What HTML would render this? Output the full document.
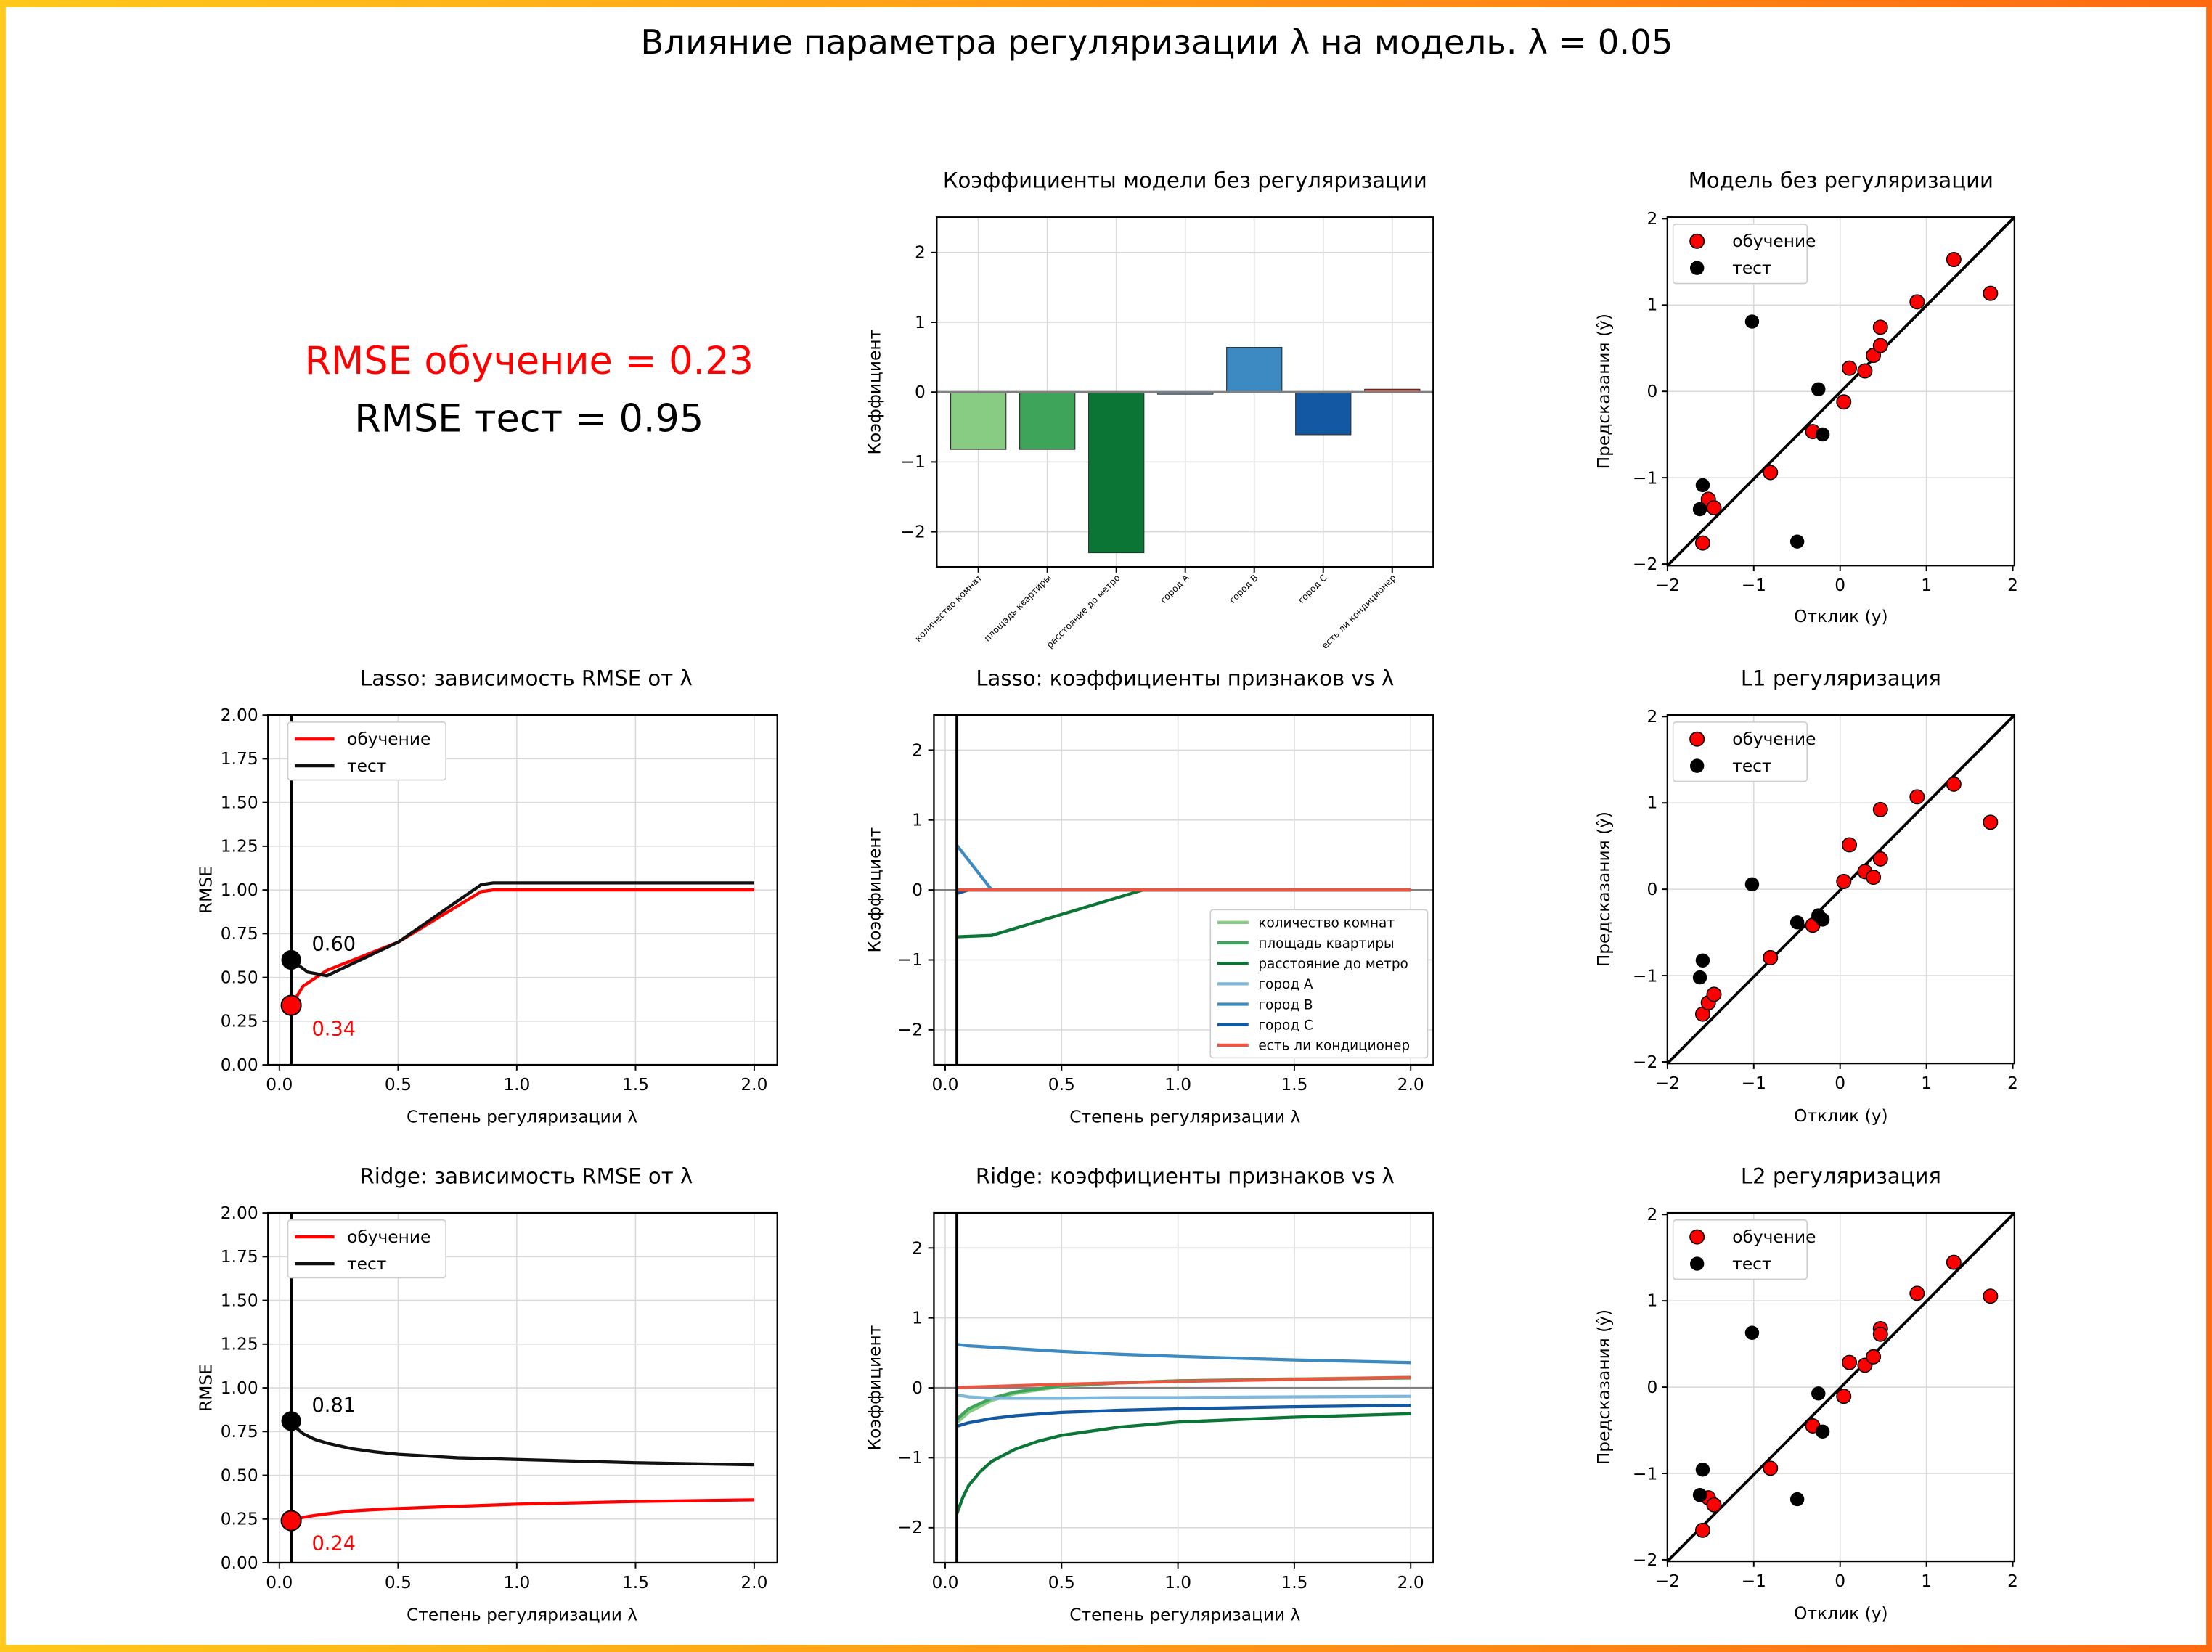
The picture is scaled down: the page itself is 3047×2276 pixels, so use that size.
<!DOCTYPE html>
<html><head><meta charset="utf-8"><style>
html,body{margin:0;padding:0;background:#fff}
svg{display:block}
text{font-family:"DejaVu Sans","Liberation Sans",sans-serif;fill:#000}
.t{font-size:12px}
.ti{font-size:15px}
.g{stroke:#d9d9d9;stroke-width:0.8}
.ax{fill:none;stroke:#000;stroke-width:1.2}
.tk{stroke:#000;stroke-width:1}
</style></head><body>
<svg width="3047" height="2276" viewBox="0 0 1568 1171.3" xmlns="http://www.w3.org/2000/svg">
<defs><linearGradient id="bg" x1="0" x2="1"><stop offset="0" stop-color="#ffc81a"/><stop offset="1" stop-color="#ff6a10"/></linearGradient></defs>
<rect x="0" y="0" width="1568" height="1171.3" fill="#fff"/>
<rect x="0" y="0" width="1568" height="5" fill="url(#bg)"/>
<rect x="0" y="1166.3" width="1568" height="5" fill="url(#bg)"/>
<rect x="0" y="0" width="4" height="1171.3" fill="#ffc81a"/>
<rect x="1564" y="0" width="4" height="1171.3" fill="#ff6a10"/>

<text x="820" y="38" font-size="24" text-anchor="middle">Влияние параметра регуляризации λ на модель. λ = 0.05</text>
<text x="375" y="265" font-size="27" text-anchor="middle" style="fill:#ff0000">RMSE обучение = 0.23</text>
<text x="375" y="306" font-size="27" text-anchor="middle">RMSE тест = 0.95</text>

<!-- ============ BAR CHART ============ -->
<g>
<text class="ti" x="840" y="133" text-anchor="middle">Коэффициенты модели без регуляризации</text>
<g class="g">
<line x1="664" x2="1016" y1="179" y2="179"/><line x1="664" x2="1016" y1="228.5" y2="228.5"/><line x1="664" x2="1016" y1="327.5" y2="327.5"/><line x1="664" x2="1016" y1="377" y2="377"/>
<line x1="693.5" x2="693.5" y1="154" y2="402"/><line x1="742.4" x2="742.4" y1="154" y2="402"/><line x1="791.3" x2="791.3" y1="154" y2="402"/><line x1="840.2" x2="840.2" y1="154" y2="402"/><line x1="889.1" x2="889.1" y1="154" y2="402"/><line x1="938" x2="938" y1="154" y2="402"/><line x1="986.9" x2="986.9" y1="154" y2="402"/>
</g>
<g stroke="#333" stroke-width="0.6">
<rect x="673.9" y="278" width="39.2" height="40.6" fill="#88cc84"/>
<rect x="722.8" y="278" width="39.2" height="40.6" fill="#3da45a"/>
<rect x="771.7" y="278" width="39.2" height="113.9" fill="#0a7535"/>
<rect x="820.6" y="278" width="39.2" height="1.5" fill="#7eb7dc"/>
<rect x="869.5" y="246.3" width="39.2" height="31.7" fill="#3d8ac2"/>
<rect x="918.4" y="278" width="39.2" height="30.2" fill="#1258a3"/>
<rect x="967.3" y="276" width="39.2" height="2" fill="#e85743"/>
</g>
<line x1="664" x2="1016" y1="278" y2="278" stroke="#808080" stroke-width="1.6"/>
<rect class="ax" x="664" y="154" width="352" height="248"/>
<g class="tk"><line x1="660" x2="664" y1="179" y2="179"/><line x1="660" x2="664" y1="228.5" y2="228.5"/><line x1="660" x2="664" y1="278" y2="278"/><line x1="660" x2="664" y1="327.5" y2="327.5"/><line x1="660" x2="664" y1="377" y2="377"/>
<line x1="693.5" x2="693.5" y1="402" y2="406"/><line x1="742.4" x2="742.4" y1="402" y2="406"/><line x1="791.3" x2="791.3" y1="402" y2="406"/><line x1="840.2" x2="840.2" y1="402" y2="406"/><line x1="889.1" x2="889.1" y1="402" y2="406"/><line x1="938" x2="938" y1="402" y2="406"/><line x1="986.9" x2="986.9" y1="402" y2="406"/></g>
<g class="t" text-anchor="end"><text x="656" y="183">2</text><text x="656" y="232.5">1</text><text x="656" y="282">0</text><text x="656" y="331.5">−1</text><text x="656" y="381">−2</text></g>
<g font-size="6.3" text-anchor="end">
<text transform="translate(696.5,410) rotate(-45)">количество комнат</text>
<text transform="translate(745.4,410) rotate(-45)">площадь квартиры</text>
<text transform="translate(794.3,410) rotate(-45)">расстояние до метро</text>
<text transform="translate(843.2,410) rotate(-45)">город A</text>
<text transform="translate(892.1,410) rotate(-45)">город B</text>
<text transform="translate(941,410) rotate(-45)">город C</text>
<text transform="translate(989.9,410) rotate(-45)">есть ли кондиционер</text>
</g>
<text class="t" transform="translate(624,278) rotate(-90)" text-anchor="middle">Коэффициент</text>
</g>

<!-- Row1 scatter -->
<g>
<text class="ti" x="1305" y="133" text-anchor="middle">Модель без регуляризации</text>
<g class="g"><line x1="1243.2" x2="1243.2" y1="154" y2="401"/><line x1="1304.4" x2="1304.4" y1="154" y2="401"/><line x1="1365.6" x2="1365.6" y1="154" y2="401"/>
<line x1="1182" x2="1428" y1="216.3" y2="216.3"/><line x1="1182" x2="1428" y1="277.5" y2="277.5"/><line x1="1182" x2="1428" y1="338.7" y2="338.7"/></g>
<line x1="1182" y1="401" x2="1428" y2="154" stroke="#000" stroke-width="2"/>
<g stroke="#000" stroke-width="0.8" fill="#ff0000">
<circle cx="1207" cy="385" r="5"/><circle cx="1211" cy="354" r="5"/><circle cx="1215" cy="360" r="5"/><circle cx="1255" cy="335" r="5"/><circle cx="1285" cy="306" r="5"/><circle cx="1307" cy="285" r="5"/><circle cx="1311" cy="261" r="5"/><circle cx="1322" cy="263" r="5"/><circle cx="1328" cy="252" r="5"/><circle cx="1333" cy="232" r="5"/><circle cx="1333" cy="245" r="5"/><circle cx="1359" cy="214" r="5"/><circle cx="1385" cy="184" r="5"/><circle cx="1411" cy="208" r="5"/></g>
<g fill="#000"><circle cx="1205" cy="361" r="5"/><circle cx="1207" cy="344" r="5"/><circle cx="1242" cy="228" r="5"/><circle cx="1274" cy="384" r="5"/><circle cx="1289" cy="276" r="5"/><circle cx="1292" cy="308" r="5"/></g>
<rect class="ax" x="1182" y="154" width="246" height="247"/>
<g class="tk"><line x1="1182" x2="1182" y1="401" y2="405"/><line x1="1243.2" x2="1243.2" y1="401" y2="405"/><line x1="1304.4" x2="1304.4" y1="401" y2="405"/><line x1="1365.6" x2="1365.6" y1="401" y2="405"/><line x1="1426.8" x2="1426.8" y1="401" y2="405"/>
<line x1="1178" x2="1182" y1="155.1" y2="155.1"/><line x1="1178" x2="1182" y1="216.3" y2="216.3"/><line x1="1178" x2="1182" y1="277.5" y2="277.5"/><line x1="1178" x2="1182" y1="338.7" y2="338.7"/><line x1="1178" x2="1182" y1="399.9" y2="399.9"/></g>
<g class="t" text-anchor="middle"><text x="1182" y="419">−2</text><text x="1243.2" y="419">−1</text><text x="1304.4" y="419">0</text><text x="1365.6" y="419">1</text><text x="1426.8" y="419">2</text></g>
<g class="t" text-anchor="end"><text x="1175" y="159">2</text><text x="1175" y="220">1</text><text x="1175" y="281.5">0</text><text x="1175" y="343">−1</text><text x="1175" y="404">−2</text></g>
<text class="t" x="1305" y="441" text-anchor="middle">Отклик (y)</text>
<text class="t" transform="translate(1141,277.5) rotate(-90)" text-anchor="middle">Предсказания (ŷ)</text>
<rect x="1186" y="159" width="95" height="42" fill="#fff" stroke="#ccc" stroke-width="0.8" rx="2"/>
<circle cx="1203" cy="171" r="5" fill="#ff0000" stroke="#000" stroke-width="0.8"/><text class="t" x="1228" y="175">обучение</text>
<circle cx="1203" cy="190" r="5" fill="#000"/><text class="t" x="1228" y="194">тест</text>
</g>

<!-- Row2 scatter -->
<g>
<text class="ti" x="1305" y="486" text-anchor="middle">L1 регуляризация</text>
<g class="g"><line x1="1243.2" x2="1243.2" y1="507" y2="754"/><line x1="1304.4" x2="1304.4" y1="507" y2="754"/><line x1="1365.6" x2="1365.6" y1="507" y2="754"/>
<line x1="1182" x2="1428" y1="569.3" y2="569.3"/><line x1="1182" x2="1428" y1="630.5" y2="630.5"/><line x1="1182" x2="1428" y1="691.7" y2="691.7"/></g>
<line x1="1182" y1="754" x2="1428" y2="507" stroke="#000" stroke-width="2"/>
<g stroke="#000" stroke-width="0.8" fill="#ff0000">
<circle cx="1207" cy="719" r="5"/><circle cx="1211" cy="711" r="5"/><circle cx="1215" cy="705" r="5"/><circle cx="1255" cy="679" r="5"/><circle cx="1285" cy="656" r="5"/><circle cx="1307" cy="625" r="5"/><circle cx="1311" cy="599" r="5"/><circle cx="1322" cy="618" r="5"/><circle cx="1328" cy="622" r="5"/><circle cx="1333" cy="574" r="5"/><circle cx="1333" cy="609" r="5"/><circle cx="1359" cy="565" r="5"/><circle cx="1385" cy="556" r="5"/><circle cx="1411" cy="583" r="5"/></g>
<g fill="#000"><circle cx="1205" cy="693" r="5"/><circle cx="1207" cy="681" r="5"/><circle cx="1242" cy="627" r="5"/><circle cx="1274" cy="654" r="5"/><circle cx="1289" cy="649" r="5"/><circle cx="1292" cy="652" r="5"/></g>
<rect class="ax" x="1182" y="507" width="246" height="247"/>
<g class="tk"><line x1="1182" x2="1182" y1="754" y2="758"/><line x1="1243.2" x2="1243.2" y1="754" y2="758"/><line x1="1304.4" x2="1304.4" y1="754" y2="758"/><line x1="1365.6" x2="1365.6" y1="754" y2="758"/><line x1="1426.8" x2="1426.8" y1="754" y2="758"/>
<line x1="1178" x2="1182" y1="508.1" y2="508.1"/><line x1="1178" x2="1182" y1="569.3" y2="569.3"/><line x1="1178" x2="1182" y1="630.5" y2="630.5"/><line x1="1178" x2="1182" y1="691.7" y2="691.7"/><line x1="1178" x2="1182" y1="752.9" y2="752.9"/></g>
<g class="t" text-anchor="middle"><text x="1182" y="772">−2</text><text x="1243.2" y="772">−1</text><text x="1304.4" y="772">0</text><text x="1365.6" y="772">1</text><text x="1426.8" y="772">2</text></g>
<g class="t" text-anchor="end"><text x="1175" y="512">2</text><text x="1175" y="573">1</text><text x="1175" y="634.5">0</text><text x="1175" y="696">−1</text><text x="1175" y="757">−2</text></g>
<text class="t" x="1305" y="795" text-anchor="middle">Отклик (y)</text>
<text class="t" transform="translate(1141,630.5) rotate(-90)" text-anchor="middle">Предсказания (ŷ)</text>
<rect x="1186" y="512" width="95" height="42" fill="#fff" stroke="#ccc" stroke-width="0.8" rx="2"/>
<circle cx="1203" cy="524" r="5" fill="#ff0000" stroke="#000" stroke-width="0.8"/><text class="t" x="1228" y="528">обучение</text>
<circle cx="1203" cy="543" r="5" fill="#000"/><text class="t" x="1228" y="547">тест</text>
</g>

<!-- Row3 scatter -->
<g>
<text class="ti" x="1305" y="839" text-anchor="middle">L2 регуляризация</text>
<g class="g"><line x1="1243.2" x2="1243.2" y1="860" y2="1107"/><line x1="1304.4" x2="1304.4" y1="860" y2="1107"/><line x1="1365.6" x2="1365.6" y1="860" y2="1107"/>
<line x1="1182" x2="1428" y1="922.3" y2="922.3"/><line x1="1182" x2="1428" y1="983.5" y2="983.5"/><line x1="1182" x2="1428" y1="1044.7" y2="1044.7"/></g>
<line x1="1182" y1="1107" x2="1428" y2="860" stroke="#000" stroke-width="2"/>
<g stroke="#000" stroke-width="0.8" fill="#ff0000">
<circle cx="1207" cy="1085" r="5"/><circle cx="1211" cy="1062" r="5"/><circle cx="1215" cy="1067" r="5"/><circle cx="1255" cy="1041" r="5"/><circle cx="1285" cy="1011" r="5"/><circle cx="1307" cy="990" r="5"/><circle cx="1311" cy="966" r="5"/><circle cx="1322" cy="968" r="5"/><circle cx="1328" cy="962" r="5"/><circle cx="1333" cy="942" r="5"/><circle cx="1333" cy="946" r="5"/><circle cx="1359" cy="917" r="5"/><circle cx="1385" cy="895" r="5"/><circle cx="1411" cy="919" r="5"/></g>
<g fill="#000"><circle cx="1205" cy="1060" r="5"/><circle cx="1207" cy="1042" r="5"/><circle cx="1242" cy="945" r="5"/><circle cx="1274" cy="1063" r="5"/><circle cx="1289" cy="988" r="5"/><circle cx="1292" cy="1015" r="5"/></g>
<rect class="ax" x="1182" y="860" width="246" height="247"/>
<g class="tk"><line x1="1182" x2="1182" y1="1107" y2="1111"/><line x1="1243.2" x2="1243.2" y1="1107" y2="1111"/><line x1="1304.4" x2="1304.4" y1="1107" y2="1111"/><line x1="1365.6" x2="1365.6" y1="1107" y2="1111"/><line x1="1426.8" x2="1426.8" y1="1107" y2="1111"/>
<line x1="1178" x2="1182" y1="861.1" y2="861.1"/><line x1="1178" x2="1182" y1="922.3" y2="922.3"/><line x1="1178" x2="1182" y1="983.5" y2="983.5"/><line x1="1178" x2="1182" y1="1044.7" y2="1044.7"/><line x1="1178" x2="1182" y1="1105.9" y2="1105.9"/></g>
<g class="t" text-anchor="middle"><text x="1182" y="1125">−2</text><text x="1243.2" y="1125">−1</text><text x="1304.4" y="1125">0</text><text x="1365.6" y="1125">1</text><text x="1426.8" y="1125">2</text></g>
<g class="t" text-anchor="end"><text x="1175" y="865">2</text><text x="1175" y="926">1</text><text x="1175" y="987.5">0</text><text x="1175" y="1049">−1</text><text x="1175" y="1110">−2</text></g>
<text class="t" x="1305" y="1148" text-anchor="middle">Отклик (y)</text>
<text class="t" transform="translate(1141,983.5) rotate(-90)" text-anchor="middle">Предсказания (ŷ)</text>
<rect x="1186" y="865" width="95" height="42" fill="#fff" stroke="#ccc" stroke-width="0.8" rx="2"/>
<circle cx="1203" cy="877" r="5" fill="#ff0000" stroke="#000" stroke-width="0.8"/><text class="t" x="1228" y="881">обучение</text>
<circle cx="1203" cy="896" r="5" fill="#000"/><text class="t" x="1228" y="900">тест</text>
</g>

<!-- ============ LASSO RMSE ============ -->
<g>
<text class="ti" x="373" y="486" text-anchor="middle">Lasso: зависимость RMSE от λ</text>
<g class="g">
<line x1="198" x2="198" y1="507" y2="755"/><line x1="282.2" x2="282.2" y1="507" y2="755"/><line x1="366.3" x2="366.3" y1="507" y2="755"/><line x1="450.5" x2="450.5" y1="507" y2="755"/><line x1="534.6" x2="534.6" y1="507" y2="755"/>
<line x1="190" x2="551" y1="724" y2="724"/><line x1="190" x2="551" y1="693" y2="693"/><line x1="190" x2="551" y1="662" y2="662"/><line x1="190" x2="551" y1="631" y2="631"/><line x1="190" x2="551" y1="600" y2="600"/><line x1="190" x2="551" y1="569" y2="569"/><line x1="190" x2="551" y1="538" y2="538"/>
</g>
<polyline fill="none" stroke="#ff0000" stroke-width="2.2" points="206.4,712.8 214.8,699.2 231.7,688 282.2,668 341,632.2 349.5,631 534.6,631"/>
<polyline fill="none" stroke="#111" stroke-width="2.2" points="206.4,680.6 218.2,689.3 231.7,691.8 282.2,668 341,627.3 349.5,626 534.6,626"/>
<line x1="206.4" x2="206.4" y1="507" y2="755" stroke="#000" stroke-width="2"/>
<circle cx="206.4" cy="680.6" r="7" fill="#000"/>
<circle cx="206.4" cy="712.8" r="7" fill="#ff0000" stroke="#000" stroke-width="1"/>
<text x="221" y="674" font-size="14">0.60</text>
<text x="221" y="734" font-size="14" style="fill:#ff0000">0.34</text>
<rect class="ax" x="190" y="507" width="361" height="248"/>
<g class="tk"><line x1="198" x2="198" y1="755" y2="759"/><line x1="282.2" x2="282.2" y1="755" y2="759"/><line x1="366.3" x2="366.3" y1="755" y2="759"/><line x1="450.5" x2="450.5" y1="755" y2="759"/><line x1="534.6" x2="534.6" y1="755" y2="759"/>
<line x1="186" x2="190" y1="755" y2="755"/><line x1="186" x2="190" y1="724" y2="724"/><line x1="186" x2="190" y1="693" y2="693"/><line x1="186" x2="190" y1="662" y2="662"/><line x1="186" x2="190" y1="631" y2="631"/><line x1="186" x2="190" y1="600" y2="600"/><line x1="186" x2="190" y1="569" y2="569"/><line x1="186" x2="190" y1="538" y2="538"/><line x1="186" x2="190" y1="507" y2="507"/></g>
<g class="t" text-anchor="middle"><text x="198" y="773">0.0</text><text x="282.2" y="773">0.5</text><text x="366.3" y="773">1.0</text><text x="450.5" y="773">1.5</text><text x="534.6" y="773">2.0</text></g>
<g class="t" text-anchor="end"><text x="183" y="759">0.00</text><text x="183" y="728">0.25</text><text x="183" y="697">0.50</text><text x="183" y="666">0.75</text><text x="183" y="635">1.00</text><text x="183" y="604">1.25</text><text x="183" y="573">1.50</text><text x="183" y="542">1.75</text><text x="183" y="511">2.00</text></g>
<text class="t" x="370" y="796" text-anchor="middle">Степень регуляризации λ</text>
<text class="t" transform="translate(150,631) rotate(-90)" text-anchor="middle">RMSE</text>
<rect x="204" y="512" width="112" height="41" fill="#fff" stroke="#ccc" stroke-width="0.8" rx="2"/>
<line x1="209" x2="237" y1="524" y2="524" stroke="#ff0000" stroke-width="2.2"/><text class="t" x="246" y="528">обучение</text>
<line x1="209" x2="237" y1="543" y2="543" stroke="#111" stroke-width="2.2"/><text class="t" x="246" y="547">тест</text>
</g>

<!-- ============ RIDGE RMSE ============ -->
<g>
<text class="ti" x="373" y="839" text-anchor="middle">Ridge: зависимость RMSE от λ</text>
<g class="g">
<line x1="198" x2="198" y1="860" y2="1108"/><line x1="282.2" x2="282.2" y1="860" y2="1108"/><line x1="366.3" x2="366.3" y1="860" y2="1108"/><line x1="450.5" x2="450.5" y1="860" y2="1108"/><line x1="534.6" x2="534.6" y1="860" y2="1108"/>
<line x1="190" x2="551" y1="1077" y2="1077"/><line x1="190" x2="551" y1="1046" y2="1046"/><line x1="190" x2="551" y1="1015" y2="1015"/><line x1="190" x2="551" y1="984" y2="984"/><line x1="190" x2="551" y1="953" y2="953"/><line x1="190" x2="551" y1="922" y2="922"/><line x1="190" x2="551" y1="891" y2="891"/>
</g>
<polyline fill="none" stroke="#ff0000" stroke-width="2.2" points="206.4,1078.2 210.6,1077 214.8,1075.8 223,1074.5 231.7,1073.3 248.5,1071.4 265,1070.4 282.2,1069.6 324,1068 366.3,1066.5 450.5,1064.6 534.6,1063.4"/>
<polyline fill="none" stroke="#111" stroke-width="2.2" points="206.4,1007.6 210.6,1013 214.8,1016.5 223,1020.5 231.7,1023.2 248.5,1027 265,1029.3 282.2,1031.1 324.2,1033.6 366.3,1034.8 450.5,1037.1 534.6,1038.6"/>
<line x1="206.4" x2="206.4" y1="860" y2="1108" stroke="#000" stroke-width="2"/>
<circle cx="206.4" cy="1007.6" r="7" fill="#000"/>
<circle cx="206.4" cy="1078.2" r="7" fill="#ff0000" stroke="#000" stroke-width="1"/>
<text x="221" y="1001" font-size="14">0.81</text>
<text x="221" y="1099" font-size="14" style="fill:#ff0000">0.24</text>
<rect class="ax" x="190" y="860" width="361" height="248"/>
<g class="tk"><line x1="198" x2="198" y1="1108" y2="1112"/><line x1="282.2" x2="282.2" y1="1108" y2="1112"/><line x1="366.3" x2="366.3" y1="1108" y2="1112"/><line x1="450.5" x2="450.5" y1="1108" y2="1112"/><line x1="534.6" x2="534.6" y1="1108" y2="1112"/>
<line x1="186" x2="190" y1="1108" y2="1108"/><line x1="186" x2="190" y1="1077" y2="1077"/><line x1="186" x2="190" y1="1046" y2="1046"/><line x1="186" x2="190" y1="1015" y2="1015"/><line x1="186" x2="190" y1="984" y2="984"/><line x1="186" x2="190" y1="953" y2="953"/><line x1="186" x2="190" y1="922" y2="922"/><line x1="186" x2="190" y1="891" y2="891"/><line x1="186" x2="190" y1="860" y2="860"/></g>
<g class="t" text-anchor="middle"><text x="198" y="1126">0.0</text><text x="282.2" y="1126">0.5</text><text x="366.3" y="1126">1.0</text><text x="450.5" y="1126">1.5</text><text x="534.6" y="1126">2.0</text></g>
<g class="t" text-anchor="end"><text x="183" y="1112">0.00</text><text x="183" y="1081">0.25</text><text x="183" y="1050">0.50</text><text x="183" y="1019">0.75</text><text x="183" y="988">1.00</text><text x="183" y="957">1.25</text><text x="183" y="926">1.50</text><text x="183" y="895">1.75</text><text x="183" y="864">2.00</text></g>
<text class="t" x="370" y="1149" text-anchor="middle">Степень регуляризации λ</text>
<text class="t" transform="translate(150,984) rotate(-90)" text-anchor="middle">RMSE</text>
<rect x="204" y="865" width="112" height="41" fill="#fff" stroke="#ccc" stroke-width="0.8" rx="2"/>
<line x1="209" x2="237" y1="877" y2="877" stroke="#ff0000" stroke-width="2.2"/><text class="t" x="246" y="881">обучение</text>
<line x1="209" x2="237" y1="896" y2="896" stroke="#111" stroke-width="2.2"/><text class="t" x="246" y="900">тест</text>
</g>

<!-- ============ LASSO COEF ============ -->
<g>
<text class="ti" x="840" y="486" text-anchor="middle">Lasso: коэффициенты признаков vs λ</text>
<g class="g">
<line x1="670" x2="670" y1="507" y2="755"/><line x1="752.5" x2="752.5" y1="507" y2="755"/><line x1="835" x2="835" y1="507" y2="755"/><line x1="917.5" x2="917.5" y1="507" y2="755"/><line x1="1000" x2="1000" y1="507" y2="755"/>
<line x1="662" x2="1016" y1="531.8" y2="531.8"/><line x1="662" x2="1016" y1="581.4" y2="581.4"/><line x1="662" x2="1016" y1="680.6" y2="680.6"/><line x1="662" x2="1016" y1="730.2" y2="730.2"/>
</g>
<line x1="662" x2="1016" y1="631" y2="631" stroke="#808080" stroke-width="1.2"/>
<g fill="none" stroke-width="2.2">
<polyline stroke="#88cc84" points="678.3,631 1000,631"/>
<polyline stroke="#3da45a" points="678.3,631 1000,631"/>
<polyline stroke="#7eb7dc" points="678.3,631 1000,631"/>
<polyline stroke="#3d8ac2" points="678.3,599.3 703,631 1000,631"/>
<polyline stroke="#1258a3" points="678.3,633.5 686.5,631 1000,631"/>
<polyline stroke="#0a7535" points="678.3,664.2 703,663.2 810.3,631 1000,631"/>
<polyline stroke="#e85743" points="678.3,631 1000,631"/>
</g>
<line x1="678.3" x2="678.3" y1="507" y2="755" stroke="#000" stroke-width="2"/>
<rect class="ax" x="662" y="507" width="354" height="248"/>
<g class="tk"><line x1="670" x2="670" y1="755" y2="759"/><line x1="752.5" x2="752.5" y1="755" y2="759"/><line x1="835" x2="835" y1="755" y2="759"/><line x1="917.5" x2="917.5" y1="755" y2="759"/><line x1="1000" x2="1000" y1="755" y2="759"/>
<line x1="658" x2="662" y1="531.8" y2="531.8"/><line x1="658" x2="662" y1="581.4" y2="581.4"/><line x1="658" x2="662" y1="631" y2="631"/><line x1="658" x2="662" y1="680.6" y2="680.6"/><line x1="658" x2="662" y1="730.2" y2="730.2"/></g>
<g class="t" text-anchor="middle"><text x="670" y="773">0.0</text><text x="752.5" y="773">0.5</text><text x="835" y="773">1.0</text><text x="917.5" y="773">1.5</text><text x="1000" y="773">2.0</text></g>
<g class="t" text-anchor="end"><text x="654" y="536">2</text><text x="654" y="585.5">1</text><text x="654" y="635">0</text><text x="654" y="684.5">−1</text><text x="654" y="734">−2</text></g>
<text class="t" x="840" y="796" text-anchor="middle">Степень регуляризации λ</text>
<text class="t" transform="translate(624,631) rotate(-90)" text-anchor="middle">Коэффициент</text>
<rect x="858" y="645" width="154" height="105" fill="#fff" stroke="#ccc" stroke-width="0.8" rx="2"/>
<g stroke-width="2.2">
<line x1="863" x2="885" y1="654" y2="654" stroke="#88cc84"/><line x1="863" x2="885" y1="668.5" y2="668.5" stroke="#3da45a"/><line x1="863" x2="885" y1="683" y2="683" stroke="#0a7535"/><line x1="863" x2="885" y1="697.5" y2="697.5" stroke="#7eb7dc"/><line x1="863" x2="885" y1="712" y2="712" stroke="#3d8ac2"/><line x1="863" x2="885" y1="726.5" y2="726.5" stroke="#1258a3"/><line x1="863" x2="885" y1="741" y2="741" stroke="#e85743"/>
</g>
<g font-size="9.5"><text x="892" y="657.5">количество комнат</text><text x="892" y="672">площадь квартиры</text><text x="892" y="686.5">расстояние до метро</text><text x="892" y="701">город A</text><text x="892" y="715.5">город B</text><text x="892" y="730">город C</text><text x="892" y="744.5">есть ли кондиционер</text></g>
</g>

<!-- ============ RIDGE COEF ============ -->
<g>
<text class="ti" x="840" y="839" text-anchor="middle">Ridge: коэффициенты признаков vs λ</text>
<g class="g">
<line x1="670" x2="670" y1="860" y2="1108"/><line x1="752.5" x2="752.5" y1="860" y2="1108"/><line x1="835" x2="835" y1="860" y2="1108"/><line x1="917.5" x2="917.5" y1="860" y2="1108"/><line x1="1000" x2="1000" y1="860" y2="1108"/>
<line x1="662" x2="1016" y1="884.8" y2="884.8"/><line x1="662" x2="1016" y1="934.4" y2="934.4"/><line x1="662" x2="1016" y1="1033.6" y2="1033.6"/><line x1="662" x2="1016" y1="1083.2" y2="1083.2"/>
</g>
<line x1="662" x2="1016" y1="984" y2="984" stroke="#808080" stroke-width="1.2"/>
<g fill="none" stroke-width="2.2">
<polyline stroke="#88cc84" points="678.3,1008.8 686.5,1001.4 703,992.9 719.5,988 752.5,983 793.8,980.5 835,979 917.5,977.6 1000,976.6"/>
<polyline stroke="#3da45a" points="678.3,1006.3 686.5,998.9 703,991.4 719.5,987 752.5,982.5 793.8,980.5 835,979 917.5,978 1000,977"/>
<polyline stroke="#0a7535" points="678.3,1073.3 682.4,1062 686.5,1053.4 694.8,1043.5 703,1036.1 719.5,1027.6 736,1021.8 752.5,1017.7 793.8,1011.8 835,1008.3 917.5,1004.8 1000,1002.4"/>
<polyline stroke="#7eb7dc" points="678.3,989 686.5,990.4 703,991.4 719.5,991.4 752.5,991.4 793.8,990.9 835,990.9 917.5,990.4 1000,990"/>
<polyline stroke="#3d8ac2" points="678.3,953.2 686.5,954.2 703,955.2 719.5,956.2 752.5,958.2 793.8,960.2 835,961.7 917.5,964.2 1000,966.1"/>
<polyline stroke="#1258a3" points="678.3,1011.3 686.5,1008.8 703,1005.8 719.5,1003.8 752.5,1001.4 793.8,999.9 835,998.9 917.5,997.4 1000,996.4"/>
<polyline stroke="#e85743" points="678.3,984 686.5,983.5 703,983 719.5,982.5 752.5,981.5 793.8,980.5 835,979.5 917.5,978 1000,976.6"/>
</g>
<line x1="678.3" x2="678.3" y1="860" y2="1108" stroke="#000" stroke-width="2"/>
<rect class="ax" x="662" y="860" width="354" height="248"/>
<g class="tk"><line x1="670" x2="670" y1="1108" y2="1112"/><line x1="752.5" x2="752.5" y1="1108" y2="1112"/><line x1="835" x2="835" y1="1108" y2="1112"/><line x1="917.5" x2="917.5" y1="1108" y2="1112"/><line x1="1000" x2="1000" y1="1108" y2="1112"/>
<line x1="658" x2="662" y1="884.8" y2="884.8"/><line x1="658" x2="662" y1="934.4" y2="934.4"/><line x1="658" x2="662" y1="984" y2="984"/><line x1="658" x2="662" y1="1033.6" y2="1033.6"/><line x1="658" x2="662" y1="1083.2" y2="1083.2"/></g>
<g class="t" text-anchor="middle"><text x="670" y="1126">0.0</text><text x="752.5" y="1126">0.5</text><text x="835" y="1126">1.0</text><text x="917.5" y="1126">1.5</text><text x="1000" y="1126">2.0</text></g>
<g class="t" text-anchor="end"><text x="654" y="889">2</text><text x="654" y="938.5">1</text><text x="654" y="988">0</text><text x="654" y="1037.5">−1</text><text x="654" y="1087">−2</text></g>
<text class="t" x="840" y="1149" text-anchor="middle">Степень регуляризации λ</text>
<text class="t" transform="translate(624,984) rotate(-90)" text-anchor="middle">Коэффициент</text>
</g>
</svg>
</body></html>
